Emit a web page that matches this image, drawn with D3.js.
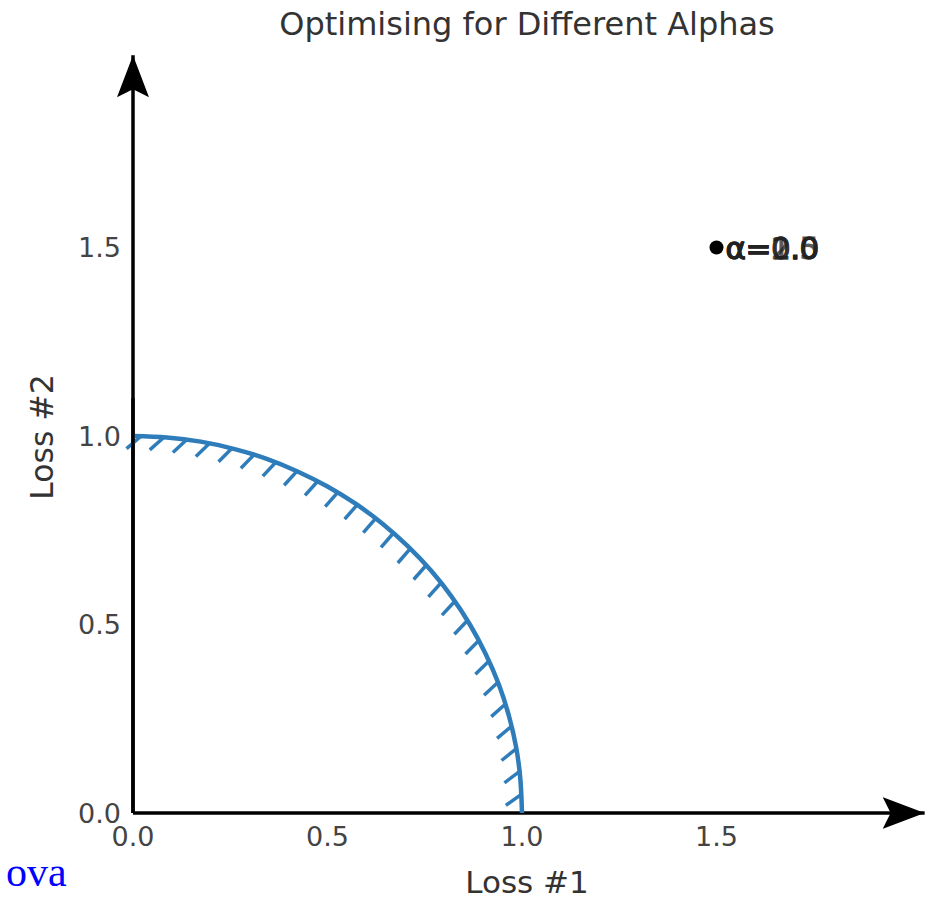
<!DOCTYPE html>
<html>
<head>
<meta charset="utf-8">
<script src="https://cdn.jsdelivr.net/npm/d3@7"></script>
<style>
  html, body { margin: 0; padding: 0; background: #fff; }
  svg { display: block; }
</style>
</head>
<body>
<svg id="chart" width="929" height="900"></svg>
<script>
// ---- data ----
const title = "Optimising for Different Alphas";
const xLabel = "Loss #1";
const yLabel = "Loss #2";
const xTicks = [0.0, 0.5, 1.0, 1.5];
const yTicks = [0.0, 0.5, 1.0, 1.5];
// Pareto front (quarter circle)
const frontX = [0.000, 0.087, 0.174, 0.259, 0.342, 0.423, 0.500, 0.574, 0.643, 0.707, 0.766, 0.819, 0.866, 0.906, 0.940, 0.966, 0.985, 0.996, 1.000];
const frontY = [1.000, 0.996, 0.985, 0.966, 0.940, 0.906, 0.866, 0.819, 0.766, 0.707, 0.643, 0.574, 0.500, 0.423, 0.342, 0.259, 0.174, 0.087, 0.000];
// current optimum point and (overlapping) alpha labels
const pointX = [1.5];
const pointY = [1.5];
const alphaLabels = ["α=0.0", "α=0.5", "α=1.0", "α=2.0"];
const axisMax = { x: 2.035, y: 2.01 };

// ---- layout ----
const svg = d3.select("#chart");
const x = d3.scaleLinear().domain([0, 1]).range([133, 522]);
const y = d3.scaleLinear().domain([0, 1]).range([813, 436]);
const blue = "#2e7dba";
const font = "'DejaVu Sans', sans-serif";

// title
svg.append("text")
  .attr("x", 527).attr("y", 35)
  .attr("text-anchor", "middle")
  .attr("font-family", font).attr("font-size", 32)
  .attr("fill", "#333")
  .text(title);

// axes lines with arrow heads
const defs = svg.append("defs");
defs.append("marker")
  .attr("id", "arrow")
  .attr("viewBox", "0 0 42 34")
  .attr("refX", 42).attr("refY", 17)
  .attr("markerWidth", 42).attr("markerHeight", 34)
  .attr("markerUnits", "userSpaceOnUse")
  .attr("orient", "auto")
  .append("path")
  .attr("d", "M0,1 L42,17 L0,33 L8,17 Z")
  .attr("fill", "#000");

svg.append("line")
  .attr("x1", x(0)).attr("y1", y(0))
  .attr("x2", x(axisMax.x)).attr("y2", y(0))
  .attr("stroke", "#000").attr("stroke-width", 3.5)
  .attr("marker-end", "url(#arrow)");
svg.append("line")
  .attr("x1", x(0)).attr("y1", y(0))
  .attr("x2", x(0)).attr("y2", y(axisMax.y))
  .attr("stroke", "#000").attr("stroke-width", 3.5)
  .attr("marker-end", "url(#arrow)");

// tick labels
svg.selectAll(".xt").data(xTicks).join("text")
  .attr("class", "xt")
  .attr("x", d => x(d)).attr("y", 836)
  .attr("text-anchor", "middle").attr("dominant-baseline", "central")
  .attr("font-family", font).attr("font-size", 27).attr("fill", "#444")
  .text(d => d3.format(".1f")(d));
svg.selectAll(".yt").data(yTicks).join("text")
  .attr("class", "yt")
  .attr("x", 121).attr("y", d => y(d))
  .attr("text-anchor", "end").attr("dominant-baseline", "central")
  .attr("font-family", font).attr("font-size", 27).attr("fill", "#444")
  .text(d => d3.format(".1f")(d));

// axis labels
svg.append("text")
  .attr("x", 527).attr("y", 882)
  .attr("text-anchor", "middle").attr("dominant-baseline", "central")
  .attr("font-family", font).attr("font-size", 31).attr("fill", "#333")
  .text(xLabel);
svg.append("text")
  .attr("transform", `translate(42,437) rotate(-90)`)
  .attr("text-anchor", "middle").attr("dominant-baseline", "central")
  .attr("font-family", font).attr("font-size", 31.5).attr("fill", "#333")
  .text(yLabel);

// pareto front
const pts = frontX.map((v, i) => [v, frontY[i]]);
const line = d3.line().x(d => x(d[0])).y(d => y(d[1])).curve(d3.curveNatural);
const front = svg.append("path")
  .attr("d", line(pts))
  .attr("fill", "none").attr("stroke", blue).attr("stroke-width", 4.5);

// ticked hatching along the front
const node = front.node();
const L = node.getTotalLength();
const spacing = 23, tickLen = 19;
const tickG = svg.append("g");
for (let s = 8; s <= L; s += spacing) {
  const p = node.getPointAtLength(s);
  const f = s / L;
  const ang = (220 + 12 * Math.sin(Math.PI * f) - 6 * f) * Math.PI / 180;
  tickG.append("line")
    .attr("x1", p.x).attr("y1", p.y)
    .attr("x2", p.x + tickLen * Math.cos(ang)).attr("y2", p.y - tickLen * Math.sin(ang))
    .attr("stroke", blue).attr("stroke-width", 3.5).attr("stroke-linecap", "butt");
}

// redraw the y axis over the first tick
svg.append("line")
  .attr("x1", x(0)).attr("y1", y(0))
  .attr("x2", x(0)).attr("y2", y(1.1))
  .attr("stroke", "#000").attr("stroke-width", 3.5);

// current point and alpha labels
svg.selectAll(".pt").data(pointX).join("circle")
  .attr("class", "pt")
  .attr("cx", d => x(d)).attr("cy", (d, i) => y(pointY[i]))
  .attr("r", 7).attr("fill", "#000");
svg.selectAll(".al").data(alphaLabels).join("text")
  .attr("class", "al")
  .attr("x", x(pointX[0]) + 9).attr("y", y(pointY[0]))
  .attr("dominant-baseline", "central")
  .attr("font-family", font).attr("font-size", 31)
  .attr("stroke", "#222").attr("stroke-width", 0.8)
  .attr("letter-spacing", -0.5)
  .attr("fill", "#222").attr("opacity", 0.75)
  .text(d => d);

// stray blue text at bottom-left
svg.append("text")
  .attr("x", 6).attr("y", 886)
  .attr("font-family", "'Liberation Serif', serif").attr("font-size", 42)
  .attr("fill", "#0000ff")
  .text("ova");
</script>
</body>
</html>
